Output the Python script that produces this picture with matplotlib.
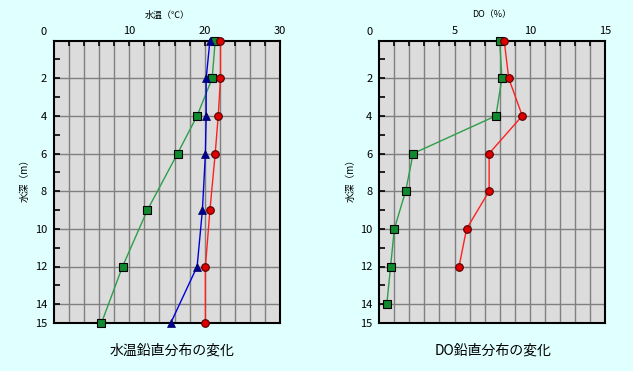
import matplotlib
matplotlib.use("Agg")
import matplotlib.pyplot as plt
import numpy as np

plt.rcParams['font.family'] = ['Noto Sans CJK JP', 'DejaVu Sans']

# Water temperature chart
wt_depth = [0, 2, 4, 6, 9, 12, 15]
wt_red = [22.1, 22.1, 21.8, 21.4, 20.7, 20.1, 20.1]
wt_green = [21.4, 21.0, 19.0, 16.4, 12.4, 9.1, 6.3]
wt_blue = [20.7, 20.2, 20.2, 20.1, 19.7, 19.0, 15.5]

# DO chart
do_red_depth = [0, 2, 4, 6, 8, 10, 12]
do_red = [8.3, 8.6, 9.5, 7.3, 7.3, 5.8, 5.3]
do_green_depth = [0, 2, 4, 6, 8, 10, 12, 14]
do_green = [8.0, 8.15, 7.75, 2.25, 1.75, 1.0, 0.75, 0.5]

wt_xticks = [10, 20, 30]
do_xticks = [5, 10, 15]
y_ticks = [2, 4, 6, 8, 10, 12, 14, 15]

BG = '#E0FFFF'
fig = plt.figure(figsize=(6.33, 3.71), dpi=100, facecolor=BG)

def setup(ax, xmax, xstep, xticks, top_title, bottom_title, title_x):
    ax.set_facecolor('#DCDCDC')
    ax.set_xlim(0, xmax)
    ax.set_ylim(15, 0)
    for x in np.arange(xstep, xmax, xstep):
        ax.axvline(x, color='#808080', lw=1.0, zorder=1)
    for y in range(2, 15, 2):
        ax.axhline(y, color='#808080', lw=1.0, zorder=1)
    ax.xaxis.set_ticks_position('top')
    pos = list(np.arange(xstep, xmax + 0.001, xstep))
    ax.set_xticks(pos)
    labels = []
    for p in pos:
        match = [v for v in xticks if abs(v - p) < 1e-6]
        labels.append(str(match[0]) if match else '')
    ax.set_xticklabels(labels, fontsize=8)
    ax.tick_params(axis='x', which='major', direction='in', length=3.5, width=1.2,
                   color='black', top=True, bottom=False, labeltop=True,
                   labelbottom=False, pad=3)
    ax.set_yticks(y_ticks)
    ax.set_yticklabels([str(v) for v in y_ticks], fontsize=8)
    ax.set_yticks(list(range(1, 15, 2)), minor=True)
    ax.tick_params(axis='y', which='both', direction='in', length=4, width=1.2,
                   color='black', pad=5)
    for s in ax.spines.values():
        s.set_linewidth(1.5)
        s.set_color('black')
    ax.text(-0.044, 1.03, '0', transform=ax.transAxes, ha='center', va='center', fontsize=8)
    ax.text(0.5, 1.09, top_title, transform=ax.transAxes, ha='center', va='center', fontsize=6.5)
    ax.text(-0.128, 0.514, '水深（m）', transform=ax.transAxes, ha='center', va='center',
            rotation=90, fontsize=7)
    ax.text(title_x, -0.096, bottom_title, transform=ax.transAxes, ha='center', va='center',
            fontsize=10)

ax1 = fig.add_axes([54/633, 48/371, 226/633, 282.5/371])
setup(ax1, 30, 2, wt_xticks, '水温（℃）', '水温鉛直分布の変化', 0.522)
ax1.plot(wt_green, wt_depth, color='#2E9E4A', lw=1.0, marker='s', ms=5.5,
         mfc='#0F8A2E', mec='black', mew=0.8, zorder=3, clip_on=False)
ax1.plot(wt_blue, wt_depth, color='#0000DD', lw=1.0, marker='^', ms=5.5,
         mfc='#000090', mec='#000060', mew=0.5, zorder=4, clip_on=False)
ax1.plot(wt_red, wt_depth, color='#FF2020', lw=1.0, marker='o', ms=5.5,
         mfc='#DD0000', mec='#550000', mew=0.8, zorder=5, clip_on=False)

ax2 = fig.add_axes([379.3/633, 48/371, 225.7/633, 282.5/371])
setup(ax2, 15, 1, do_xticks, 'DO（%）', 'DO鉛直分布の変化', 0.504)
ax2.plot(do_green, do_green_depth, color='#2E9E4A', lw=1.0, marker='s', ms=5.5,
         mfc='#0F8A2E', mec='black', mew=0.8, zorder=3, clip_on=False)
ax2.plot(do_red, do_red_depth, color='#FF2020', lw=1.0, marker='o', ms=5.5,
         mfc='#DD0000', mec='#550000', mew=0.8, zorder=5, clip_on=False)

fig.savefig('out.png', dpi=100, facecolor=BG)
